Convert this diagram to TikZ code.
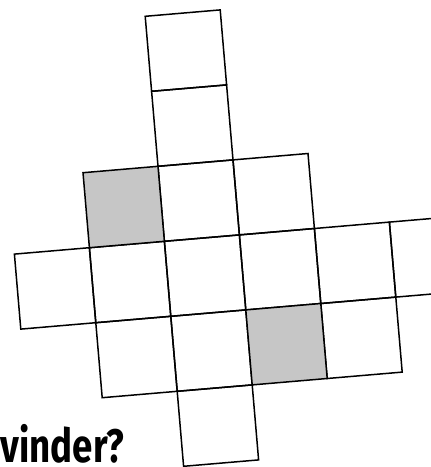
\documentclass[tikz,border=0pt]{standalone}
\usepackage{fontspec}
\newfontfamily\titlefont[FakeStretch=0.78]{Fira Sans Bold}
\begin{document}
\begin{tikzpicture}[x=1pt,y=-1pt,
  cellbox/.style={draw=black,line width=1.5pt,line join=miter},
  shaded/.style={cellbox,fill=cellgray}]
\definecolor{cellgray}{HTML}{C6C6C6}
\useasboundingbox (0,0) rectangle (431,467);
\clip (0,0) rectangle (431,467);
\begin{scope}[shift={(83pt,-172.7pt)},x={(75pt,6.4pt)},y={(6.4pt,-75pt)}]
  % white cells
  \foreach \i/\j in {1/-2,1/-1,1/0,2/0,-1/1,0/1,1/1,2/1,3/1,4/1,0/2,1/2,3/2,1/3}{
    \draw[cellbox] (\i,\j) -- (\i+1,\j) -- (\i+1,\j+1) -- (\i,\j+1) -- cycle;
  }
  % grey cells
  \foreach \i/\j in {0/0,2/2}{
    \draw[shaded] (\i,\j) -- (\i+1,\j) -- (\i+1,\j+1) -- (\i,\j+1) -- cycle;
  }
\end{scope}
\node[anchor=base west,inner sep=0pt,text depth=0pt] (title) at (0.5,462.7)
  {\titlefont\fontsize{47}{47}\selectfont vinder?};
\end{tikzpicture}
\end{document}
